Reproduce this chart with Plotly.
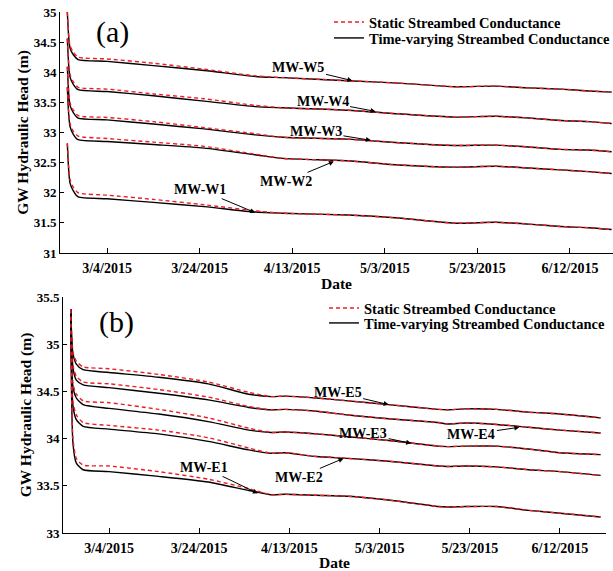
import plotly.graph_objects as go

# ---------------- data: panel (a), west-bank monitoring wells ----------------
dates_w = ["2015-02-23 10:00", "2015-02-23 17:00", "2015-02-24 00:00", "2015-02-24 17:00",
           "2015-02-25 18:00", "2015-03-04", "2015-03-14", "2015-03-25", "2015-04-05",
           "2015-04-11", "2015-04-25", "2015-05-06", "2015-05-18", "2015-05-27",
           "2015-06-03", "2015-06-10", "2015-06-16", "2015-06-21"]

w5_tv = [35.00, 34.59, 34.40, 34.29, 34.21, 34.18, 34.11, 34.03, 33.93,
         33.91, 33.86, 33.82, 33.76, 33.77, 33.74, 33.72, 33.69, 33.67]
w5_st = [35.00, 34.62, 34.44, 34.33, 34.25, 34.22, 34.15, 34.05, 33.94,
         33.91, 33.86, 33.82, 33.76, 33.77, 33.74, 33.72, 33.69, 33.67]
w4_tv = [34.56, 34.12, 33.92, 33.80, 33.71, 33.68, 33.61, 33.52, 33.43,
         33.41, 33.37, 33.31, 33.255, 33.27, 33.24, 33.20, 33.18, 33.15]
w4_st = [34.56, 34.16, 33.96, 33.84, 33.75, 33.72, 33.64, 33.56, 33.45,
         33.41, 33.37, 33.31, 33.255, 33.27, 33.24, 33.20, 33.18, 33.15]
w3_tv = [34.09, 33.65, 33.45, 33.33, 33.24, 33.21, 33.14, 33.06, 32.96,
         32.92, 32.89, 32.83, 32.785, 32.79, 32.76, 32.72, 32.71, 32.68]
w3_st = [34.09, 33.69, 33.49, 33.37, 33.28, 33.25, 33.18, 33.08, 32.98,
         32.92, 32.89, 32.83, 32.785, 32.79, 32.76, 32.72, 32.71, 32.68]
w2_tv = [33.75, 33.30, 33.10, 32.97, 32.88, 32.85, 32.80, 32.74, 32.63,
         32.57, 32.53, 32.46, 32.425, 32.44, 32.41, 32.38, 32.35, 32.32]
w2_st = [33.75, 33.35, 33.15, 33.02, 32.94, 32.90, 32.84, 32.77, 32.64,
         32.57, 32.53, 32.46, 32.425, 32.44, 32.41, 32.38, 32.35, 32.32]
w1_tv = [32.82, 32.38, 32.16, 32.03, 31.93, 31.90, 31.84, 31.77, 31.68,
         31.66, 31.63, 31.58, 31.495, 31.51, 31.48, 31.44, 31.42, 31.39]
w1_st = [32.82, 32.43, 32.22, 32.09, 32.00, 31.96, 31.89, 31.80, 31.70,
         31.66, 31.63, 31.58, 31.495, 31.51, 31.48, 31.44, 31.42, 31.39]

# ---------------- data: panel (b), east-bank monitoring wells ----------------
dates_e = ["2015-02-23 12:00", "2015-02-24 00:00", "2015-02-24 18:00", "2015-02-26 06:00",
           "2015-03-04", "2015-03-15", "2015-03-26", "2015-04-04", "2015-04-09",
           "2015-04-12", "2015-04-19", "2015-04-26", "2015-05-05", "2015-05-16",
           "2015-05-18", "2015-05-22", "2015-05-29", "2015-06-05", "2015-06-12", "2015-06-21"]

e5_tv = [35.37, 34.90, 34.79, 34.73, 34.70, 34.65, 34.58, 34.47, 34.445, 34.45,
         34.43, 34.40, 34.36, 34.31, 34.305, 34.315, 34.31, 34.28, 34.26, 34.22]
e5_st = [35.37, 34.92, 34.82, 34.76, 34.74, 34.68, 34.60, 34.49, 34.445, 34.45,
         34.43, 34.40, 34.36, 34.31, 34.305, 34.315, 34.31, 34.28, 34.26, 34.22]
e4_tv = [35.37, 34.75, 34.62, 34.57, 34.54, 34.48, 34.41, 34.33, 34.305, 34.31,
         34.29, 34.25, 34.21, 34.17, 34.155, 34.165, 34.15, 34.12, 34.09, 34.06]
e4_st = [35.37, 34.78, 34.66, 34.60, 34.58, 34.52, 34.44, 34.34, 34.305, 34.31,
         34.29, 34.25, 34.21, 34.17, 34.155, 34.165, 34.15, 34.12, 34.09, 34.06]
e3_tv = [35.37, 34.55, 34.43, 34.36, 34.32, 34.26, 34.18, 34.09, 34.065, 34.07,
         34.05, 34.02, 33.98, 33.92, 33.915, 33.92, 33.92, 33.89, 33.85, 33.83]
e3_st = [35.37, 34.58, 34.47, 34.40, 34.38, 34.31, 34.22, 34.11, 34.065, 34.07,
         34.05, 34.02, 33.98, 33.92, 33.915, 33.92, 33.92, 33.89, 33.85, 33.83]
e2_tv = [35.37, 34.35, 34.20, 34.13, 34.10, 34.05, 33.97, 33.88, 33.845, 33.85,
         33.81, 33.79, 33.76, 33.71, 33.705, 33.71, 33.70, 33.67, 33.65, 33.61]
e2_st = [35.37, 34.39, 34.25, 34.17, 34.14, 34.09, 34.01, 33.90, 33.845, 33.85,
         33.81, 33.79, 33.76, 33.71, 33.705, 33.71, 33.70, 33.67, 33.65, 33.61]
e1_tv = [35.37, 33.95, 33.74, 33.67, 33.65, 33.60, 33.54, 33.45, 33.405, 33.41,
         33.40, 33.39, 33.35, 33.28, 33.275, 33.28, 33.28, 33.24, 33.21, 33.17]
e1_st = [35.37, 34.00, 33.79, 33.72, 33.71, 33.65, 33.57, 33.47, 33.405, 33.41,
         33.40, 33.39, 33.35, 33.28, 33.275, 33.28, 33.28, 33.24, 33.21, 33.17]

# tick labels
tick_dates = ["2015-03-04", "2015-03-24", "2015-04-13", "2015-05-03", "2015-05-23", "2015-06-12"]
tick_text = ["3/4/2015", "3/24/2015", "4/13/2015", "5/3/2015", "5/23/2015", "6/12/2015"]

# well labels: (name, date pointed at, head pointed at, text offset px)
labels_w = [("MW-W5", "2015-04-26", 33.86, -54, -13),
            ("MW-W4", "2015-05-01", 33.35, -53, -10),
            ("MW-W3", "2015-04-30", 32.87, -55, -9),
            ("MW-W2", "2015-04-22", 32.52, -48, 20),
            ("MW-W1", "2015-04-05", 31.67, -55, -23)]
labels_e = [("MW-E5", "2015-05-05", 34.36, -51, -12),
            ("MW-E3", "2015-05-10", 33.95, -48, -10),
            ("MW-E2", "2015-04-25", 33.79, -45, 19),
            ("MW-E1", "2015-04-06", 33.42, -54, -26),
            ("MW-E4", "2015-06-03", 34.12, -48, 7)]

W, H = 613, 571
SERIF = "Liberation Serif"
RED = "#ee1c25"
BLACK = "#000000"

fig = go.Figure()

def add_pair(dates, tv, st, xa, ya, legs, show):
    fig.add_trace(go.Scatter(
        x=dates, y=tv, mode="lines", xaxis=xa, yaxis=ya,
        line=dict(color=BLACK, width=1.4, shape="spline", smoothing=0.6),
        name="Time-varying Streambed Conductance", legend=legs[1],
        showlegend=show, hoverinfo="skip"))
    fig.add_trace(go.Scatter(
        x=dates, y=st, mode="lines", xaxis=xa, yaxis=ya,
        line=dict(color=RED, width=1.4, dash="4px,3px", shape="spline", smoothing=0.6),
        name="Static Streambed Conductance", legend=legs[0],
        showlegend=show, hoverinfo="skip"))

top_sets = [(w5_tv, w5_st), (w4_tv, w4_st), (w3_tv, w3_st), (w2_tv, w2_st), (w1_tv, w1_st)]
bot_sets = [(e5_tv, e5_st), (e4_tv, e4_st), (e3_tv, e3_st), (e2_tv, e2_st), (e1_tv, e1_st)]

for i, (tv, st) in enumerate(top_sets):
    add_pair(dates_w, tv, st, "x", "y", ("legend", "legend2"), i == 0)
for i, (tv, st) in enumerate(bot_sets):
    add_pair(dates_e, tv, st, "x2", "y2", ("legend3", "legend4"), i == 0)

def px_x(p):
    return p / W

def px_y(p):
    return 1 - p / H

tick_font_x = dict(family=SERIF, size=14, color=BLACK, weight="bold")
tick_font_y = dict(family=SERIF, size=13, color=BLACK, weight="bold")
title_font = dict(family=SERIF, size=15.5, color=BLACK, weight="bold")

def xaxis(domain, rng, anchor, standoff):
    return dict(domain=domain, range=rng, type="date", tickmode="array",
                tickvals=tick_dates, ticktext=tick_text, ticks="inside", ticklen=5,
                tickcolor=BLACK, showline=True, linecolor=BLACK, linewidth=1,
                showgrid=False, zeroline=False, tickfont=tick_font_x,
                automargin=False, anchor=anchor, ticklabelstandoff=2,
                title=dict(text="Date", font=title_font, standoff=standoff))

def yaxis(domain, rng, anchor):
    return dict(domain=domain, range=rng, dtick=0.5, ticks="inside", ticklen=4,
                tickcolor=BLACK, showline=True, linecolor=BLACK, linewidth=1,
                showgrid=False, zeroline=False, tickfont=tick_font_y, anchor=anchor,
                automargin=False,
                title=dict(text="GW Hydraulic Head (m)", font=title_font, standoff=1))

legend_font = dict(family=SERIF, size=14.5, color=BLACK, weight="bold")

def legend_at(text_left, row_y):
    return dict(x=px_x(text_left - 40), y=px_y(row_y), xanchor="left", yanchor="middle",
                bgcolor="rgba(0,0,0,0)", borderwidth=0, font=legend_font,
                itemwidth=30, itemclick=False, itemdoubleclick=False)

fig.update_layout(
    template="none",
    width=W, height=H, margin=dict(l=0, r=0, t=0, b=0, autoexpand=False),
    paper_bgcolor="white", plot_bgcolor="white",
    xaxis=xaxis([px_x(60), 1.0], ["2015-02-21 20:00", "2015-06-21 07:00"], "y", 3),
    yaxis=yaxis([px_y(253), px_y(12)], [31, 35], "x"),
    xaxis2=xaxis([px_x(63), px_x(606)], ["2015-02-21 19:00", "2015-06-22 05:00"], "y2", 4),
    yaxis2=yaxis([px_y(533), px_y(297)], [33, 35.5], "x2"),
    legend=legend_at(369, 22),
    legend2=legend_at(369, 38),
    legend3=legend_at(364, 308),
    legend4=legend_at(364, 323),
    showlegend=True,
)

# panel tags
fig.add_annotation(text="(a)", xref="paper", yref="paper", x=px_x(112), y=px_y(32),
                   xanchor="center", yanchor="middle", showarrow=False,
                   font=dict(family=SERIF, size=30, color=BLACK))
fig.add_annotation(text="(b)", xref="paper", yref="paper", x=px_x(117), y=px_y(322),
                   xanchor="center", yanchor="middle", showarrow=False,
                   font=dict(family=SERIF, size=30, color=BLACK))

label_font = dict(family=SERIF, size=14, color=BLACK, weight="bold")
for xr, yr, labels in (("x", "y", labels_w), ("x2", "y2", labels_e)):
    for name, d, v, ax, ay in labels:
        fig.add_annotation(text=name, x=d, y=v, xref=xr, yref=yr, ax=ax, ay=ay,
                           showarrow=True, arrowhead=2, arrowsize=1, arrowwidth=1,
                           arrowcolor=BLACK, standoff=0, startstandoff=0,
                           font=label_font)

fig.write_html("out.html")
